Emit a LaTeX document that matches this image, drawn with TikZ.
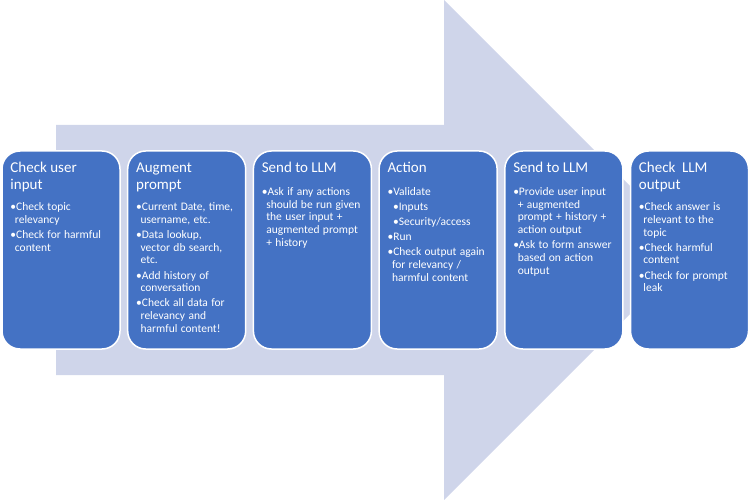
\documentclass[tikz,border=0pt]{standalone}
\usepackage{fontspec}
\setmainfont{Carlito}
\usepackage{xcolor}
\usetikzlibrary{positioning}
\definecolor{stageBlue}{HTML}{4472C4}
\definecolor{flowLilac}{HTML}{CFD5EA}
\newcommand{\stagetitle}[1]{{\fontsize{15}{16.6}\selectfont\strut #1\par}\vspace{9pt}}
\newcommand{\bitem}[1]{\fontsize{11.5}{12.7}\selectfont\hangindent=4.5pt\hangafter=1 \textbullet#1\par\vspace{2.4pt}}
\newcommand{\bsubitem}[1]{\fontsize{11.5}{12.7}\selectfont\hangindent=10pt\hangafter=1 \hspace*{5.5pt}\textbullet#1\par\vspace{2.4pt}}
\tikzset{
  stagebox/.style={rectangle, rounded corners=18pt, draw=white, fill=stageBlue, line width=1.5pt, minimum width=118pt, minimum height=198pt, inner sep=0pt},
  stagetext/.style={text=white, align=left, text width=108pt, inner sep=0pt, anchor=north west},
  flowband/.style={fill=flowLilac, draw=none},
}

\begin{document}
\begin{tikzpicture}[x=1pt,y=-1pt]
  \useasboundingbox (0,0) rectangle (750,500);
  % big arrow behind the stages
  \fill[flowband] (56,125) -- (444,125) -- (444,0) -- (694,250) -- (444,500) -- (444,375) -- (56,375) -- cycle;

  \node[stagebox] (b1) at (61,250) {};
  \node[stagebox] (b2) at (186.7,250) {};
  \node[stagebox] (b3) at (312.4,250) {};
  \node[stagebox] (b4) at (438.1,250) {};
  \node[stagebox] (b5) at (563.8,250) {};
  \node[stagebox] (b6) at (689.5,250) {};

  \node[stagetext, below right=10.4pt and 9pt of b1.north west] (t1) {%
    \stagetitle{Check user\newline input}%
    \bitem{Check topic\newline relevancy}%
    \bitem{Check for harmful\newline content}};
  \node[stagetext, below right=10.4pt and 9pt of b2.north west] (t2) {%
    \stagetitle{Augment\newline prompt}%
    \bitem{Current Date, time,\newline username, etc.}%
    \bitem{Data lookup,\newline vector db search,\newline etc.}%
    \bitem{Add history of\newline conversation}%
    \bitem{Check all data for\newline relevancy and\newline harmful content!}};
  \node[stagetext, below right=10.4pt and 9pt of b3.north west] (t3) {%
    \stagetitle{Send to LLM}%
    \bitem{Ask if any actions\newline should be run given\newline the user input +\newline augmented prompt\newline + history}};
  \node[stagetext, below right=10.4pt and 9pt of b4.north west] (t4) {%
    \stagetitle{Action}%
    \bitem{Validate}%
    \bsubitem{Inputs}%
    \bsubitem{Security/access}%
    \bitem{Run}%
    \bitem{Check output again\newline for relevancy /\newline harmful content}};
  \node[stagetext, below right=10.4pt and 9pt of b5.north west] (t5) {%
    \stagetitle{Send to LLM}%
    \bitem{Provide user input\newline + augmented\newline prompt + history +\newline action output}%
    \bitem{Ask to form answer\newline based on action\newline output}};
  \node[stagetext, below right=10.4pt and 9pt of b6.north west] (t6) {%
    \stagetitle{Check\ \ LLM\newline output}%
    \bitem{Check answer is\newline relevant to the\newline topic}%
    \bitem{Check harmful\newline content}%
    \bitem{Check for prompt\newline leak}};
\end{tikzpicture}
\end{document}
